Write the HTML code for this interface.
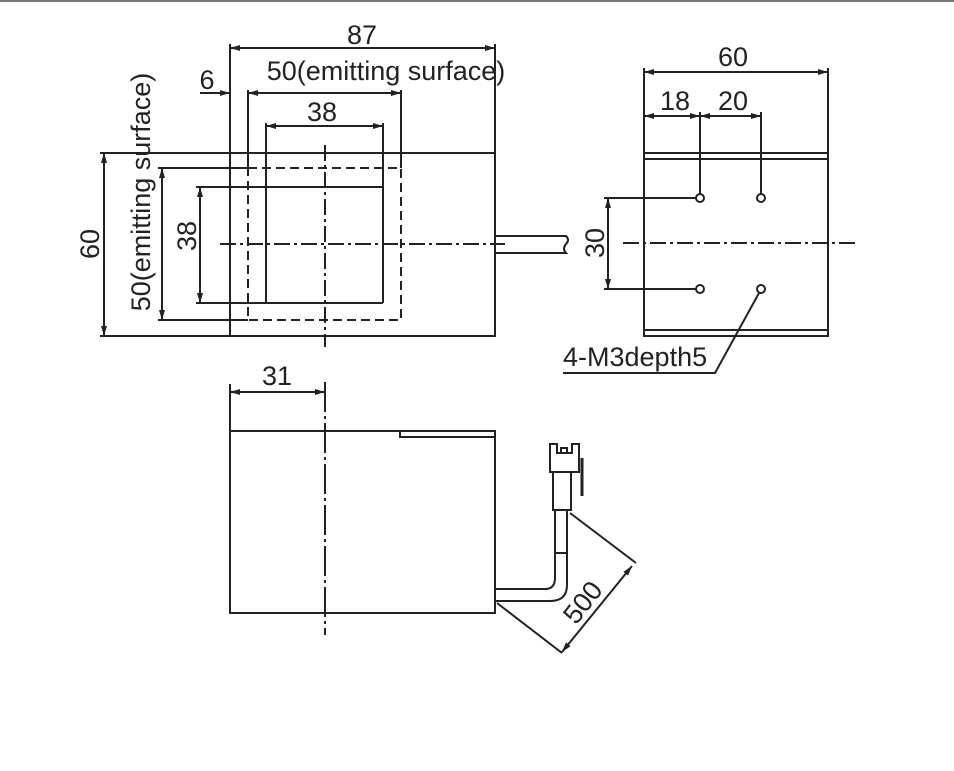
<!DOCTYPE html>
<html><head><meta charset="utf-8"><style>
html,body{margin:0;padding:0;background:#fff;}
svg{display:block;}
text{font-family:"Liberation Sans",sans-serif;fill:#222;}
</style></head><body>
<svg width="954" height="771" viewBox="0 0 954 771" xmlns="http://www.w3.org/2000/svg">
<defs>
<marker id="a" viewBox="0 0 10 6" refX="10" refY="3" markerWidth="10" markerHeight="6" orient="auto-start-reverse" markerUnits="userSpaceOnUse"><path d="M0,0 L10,3 L0,6z" fill="#222"/></marker>
</defs>
<rect x="0" y="0" width="954" height="2" fill="#777"/>
<g stroke="#222" stroke-width="2" fill="none">
<rect x="230" y="153" width="265" height="183"/>
<line x1="230" y1="44" x2="230" y2="336"/>
<line x1="495" y1="44" x2="495" y2="153"/>
<line x1="230" y1="48" x2="495" y2="48" marker-start="url(#a)" marker-end="url(#a)"/>
<line x1="200" y1="93" x2="230" y2="93" marker-end="url(#a)"/>
<line x1="248" y1="93" x2="401" y2="93" marker-start="url(#a)" marker-end="url(#a)"/>
<line x1="248" y1="90" x2="248" y2="168"/>
<line x1="401" y1="90" x2="401" y2="168"/>
<rect x="248" y="168" width="153" height="152" stroke-dasharray="9,5"/>
<line x1="266" y1="126" x2="383" y2="126" marker-start="url(#a)" marker-end="url(#a)"/>
<line x1="266" y1="123" x2="266" y2="303"/>
<line x1="383" y1="123" x2="383" y2="303"/>
<line x1="196" y1="187" x2="383" y2="187"/>
<line x1="196" y1="303" x2="383" y2="303"/>
<line x1="200" y1="187" x2="200" y2="303" marker-start="url(#a)" marker-end="url(#a)"/>
<line x1="100" y1="153" x2="230" y2="153"/>
<line x1="100" y1="336" x2="230" y2="336"/>
<line x1="104" y1="153" x2="104" y2="336" marker-start="url(#a)" marker-end="url(#a)"/>
<line x1="158" y1="168" x2="248" y2="168"/>
<line x1="158" y1="320" x2="248" y2="320"/>
<line x1="162" y1="168" x2="162" y2="320" marker-start="url(#a)" marker-end="url(#a)"/>
<line x1="325" y1="145" x2="325" y2="347" stroke-dasharray="16,4,3,4"/>
<line x1="220" y1="244" x2="505" y2="244" stroke-dasharray="16,4,3,4"/>
<path d="M495,236 L566,236 Q570,240 566,244 Q562,249 566,253 L495,253"/>
<rect x="644" y="153" width="184" height="183"/>
<line x1="644" y1="159" x2="828" y2="159"/>
<line x1="644" y1="330" x2="828" y2="330"/>
<line x1="644" y1="68" x2="644" y2="153"/>
<line x1="828" y1="68" x2="828" y2="153"/>
<line x1="644" y1="72" x2="828" y2="72" marker-start="url(#a)" marker-end="url(#a)"/>
<line x1="644" y1="116" x2="700" y2="116" marker-start="url(#a)" marker-end="url(#a)"/>
<line x1="700" y1="116" x2="761" y2="116" marker-start="url(#a)" marker-end="url(#a)"/>
<line x1="700" y1="112" x2="700" y2="194"/>
<line x1="761" y1="112" x2="761" y2="194"/>
<circle cx="700" cy="198" r="4"/><circle cx="761" cy="198" r="4"/>
<circle cx="700" cy="289" r="4"/><circle cx="761" cy="289" r="4"/>
<line x1="604" y1="198" x2="696" y2="198"/>
<line x1="604" y1="289" x2="696" y2="289"/>
<line x1="608" y1="198" x2="608" y2="289" marker-start="url(#a)" marker-end="url(#a)"/>
<line x1="623" y1="243" x2="858" y2="243" stroke-dasharray="16,4,3,4"/>
<polyline points="759,293 715,373 563,373"/>
<line x1="230" y1="384" x2="230" y2="431"/>
<line x1="230" y1="392" x2="325" y2="392" marker-start="url(#a)" marker-end="url(#a)"/>
<line x1="325" y1="382" x2="325" y2="635" stroke-dasharray="30,4,3,4"/>
<rect x="230" y="431" width="265" height="182"/>
<polyline points="400,431 400,437 495,437"/>
<path d="M495,589 L545,589 Q555,589 555,578 L555,511"/>
<path d="M495,601 L550,601 Q567,601 567,585 L567,511"/>
<line x1="555" y1="553" x2="567" y2="553"/>
<rect x="553" y="472" width="18" height="38"/>
<path d="M550,472 L550,444 L557,444 L557,453 L572,453 L572,444 L579,444 L579,472 Z"/>
<rect x="561" y="448" width="6" height="5"/>
<line x1="582" y1="458" x2="582" y2="496" stroke-width="3"/>
<line x1="570" y1="513" x2="636" y2="563"/>
<line x1="497" y1="603" x2="562" y2="653"/>
<line x1="632" y1="566" x2="562" y2="652" marker-start="url(#a)" marker-end="url(#a)"/>
</g>
<g font-size="27">
<text x="362" y="44" text-anchor="middle">87</text>
<text x="207" y="89" text-anchor="middle">6</text>
<text x="386" y="80" text-anchor="middle">50(emitting surface)</text>
<text x="322" y="121" text-anchor="middle">38</text>
<text transform="translate(99,244) rotate(-90)" text-anchor="middle">60</text>
<text transform="translate(150,192) rotate(-90)" text-anchor="middle">50(emitting surface)</text>
<text transform="translate(196,236) rotate(-90)" text-anchor="middle">38</text>
<text x="733" y="66" text-anchor="middle">60</text>
<text x="675" y="110" text-anchor="middle">18</text>
<text x="733" y="110" text-anchor="middle">20</text>
<text transform="translate(604,243) rotate(-90)" text-anchor="middle">30</text>
<text x="563" y="366">4-M3depth5</text>
<text x="277" y="385" text-anchor="middle">31</text>
<text transform="translate(590,608) rotate(-52)" text-anchor="middle">500</text>
</g>
</svg>
</body></html>
